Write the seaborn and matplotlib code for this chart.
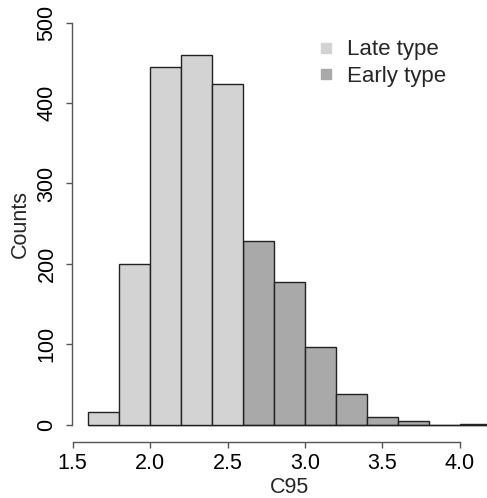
import matplotlib
matplotlib.use("Agg")
import matplotlib.pyplot as plt
import seaborn as sns
import numpy as np
import pandas as pd
from matplotlib.lines import Line2D

# Data
bin_edges = [1.6, 1.8, 2.0, 2.2, 2.4, 2.6, 2.8, 3.0, 3.2, 3.4, 3.6, 3.8, 4.0, 4.2]
late_counts = [16, 200, 445, 460, 424]
early_counts = [228, 178, 96, 38, 10, 4, 0, 1]
type_labels = ["Late type", "Early type"]
type_colors = ["#D3D3D3", "#A9A9A9"]
x_ticks = [1.5, 2.0, 2.5, 3.0, 3.5, 4.0]
y_ticks = [0, 100, 200, 300, 400, 500]

centers = [(a + b) / 2 for a, b in zip(bin_edges[:-1], bin_edges[1:])]
df = pd.DataFrame({
    "C95": centers,
    "count": late_counts + early_counts,
    "type": [type_labels[0]] * len(late_counts) + [type_labels[1]] * len(early_counts),
})

sns.set_theme(style="white")
plt.rcParams["font.family"] = ["Liberation Sans", "DejaVu Sans"]

W, H = 487, 498
fig = plt.figure(figsize=(W / 100, H / 100), dpi=100)
left_px, right_px = 72, 507
top_px, bottom_px = 6.6, 441.5
ax = fig.add_axes([left_px / W, (H - bottom_px) / H, (right_px - left_px) / W, (bottom_px - top_px) / H])

sns.histplot(data=df, x="C95", weights="count", bins=bin_edges, hue="type",
             hue_order=type_labels, palette=type_colors, multiple="layer",
             alpha=1, edgecolor="#222222", linewidth=1.0, legend=False, ax=ax)

ax.set_xlim(1.496, 4.304)
ax.set_ylim(-21, 520)

for s in ["top", "right"]:
    ax.spines[s].set_visible(False)
ax.spines["left"].set_bounds(0, 500)
ax.spines["bottom"].set_bounds(1.5, 4.0)
for s in ["left", "bottom"]:
    ax.spines[s].set_color("#555555")
    ax.spines[s].set_linewidth(1.0)

fs = 15.5
ax.set_xticks(x_ticks)
ax.set_xticklabels([f"{v:.1f}" for v in x_ticks], fontsize=fs)
ax.set_yticks(y_ticks)
ax.set_yticklabels([str(v) for v in y_ticks], fontsize=fs, rotation=90, va="center")
ax.tick_params(axis="both", direction="out", length=4.5, width=1.0, color="#555555",
               bottom=True, left=True, labelcolor="black")
ax.tick_params(axis="y", pad=6)
ax.tick_params(axis="x", pad=4)
ax.set_xlabel("C95", fontsize=fs, labelpad=2)
ax.set_ylabel("Counts", fontsize=fs, labelpad=4)

lfs = 16
handles = [Line2D([0], [0], marker="s", linestyle="none", markersize=7.2,
                  markerfacecolor=c, markeredgecolor=c) for c in type_colors]
fig.legend(handles, type_labels, loc="upper left",
           bbox_to_anchor=(321 / W, (H - 39.5) / H), bbox_transform=fig.transFigure,
           frameon=False, fontsize=lfs, handletextpad=0.68, labelspacing=0.25,
           handlelength=0.47, borderaxespad=0, borderpad=0)

fig.savefig("out.png", dpi=100)
